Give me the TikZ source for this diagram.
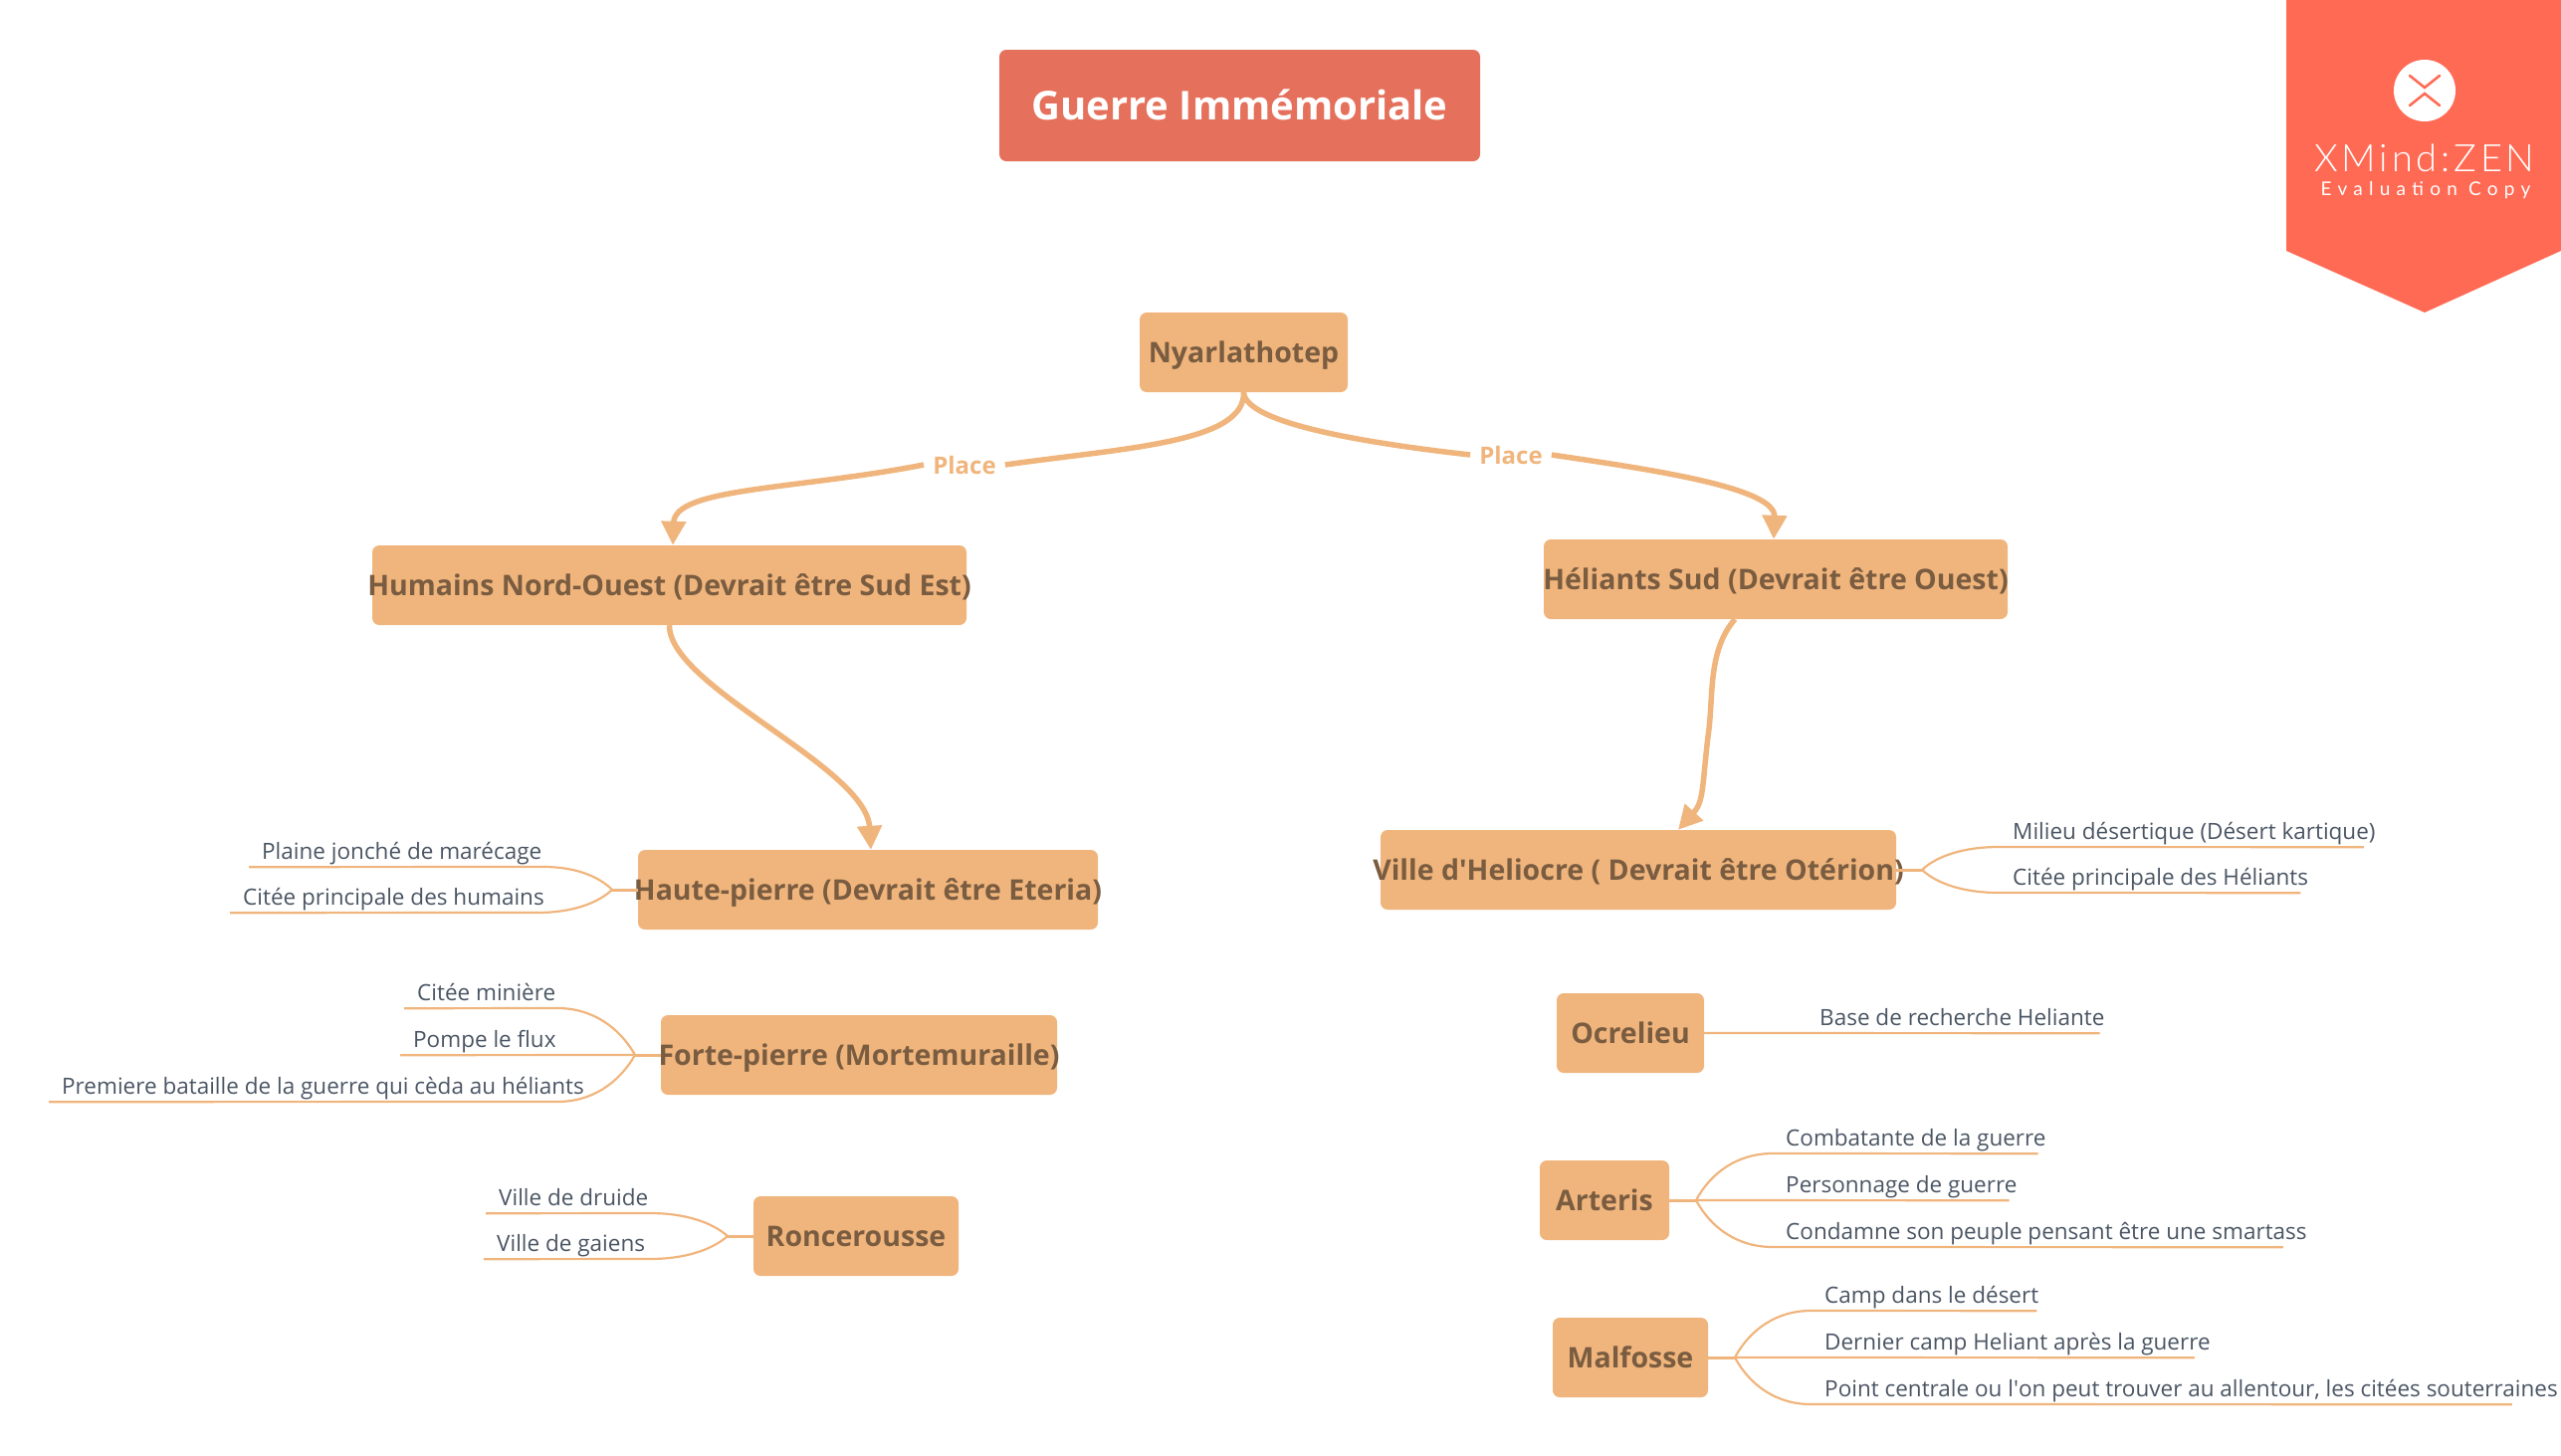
\documentclass[tikz,border=0pt]{standalone}
\usepackage{fontspec}
\setmainfont{Open Sans}
\newfontfamily\badgefont{Lato Light}
\newfontfamily\badgesmall{Lato}
\usetikzlibrary{arrows.meta}
\definecolor{orangebox}{HTML}{F0B57D}
\definecolor{browntext}{HTML}{7A5C40}
\definecolor{redtitle}{HTML}{E5705C}
\definecolor{slatetext}{HTML}{4A5563}
\definecolor{redbadge}{HTML}{FF6A54}
\newcommand{\wide}[1]{\makebox[0pt]{#1}}
\tikzset{
  topic/.style={fill=orangebox, rounded corners=7pt, text=browntext, inner sep=0pt, minimum height=80pt, text height=24pt, text depth=4pt, font=\fontsize{28.5}{34}\bfseries\selectfont},
  leaf/.style={anchor=base west, inner sep=0pt, text depth=8pt, text=slatetext, font=\fontsize{22.5}{27}\selectfont},
  branch/.style={draw=orangebox, line width=5.5pt, -{Triangle[length=24pt,width=24pt]}},
  branchplain/.style={draw=orangebox, line width=5.5pt},
  stub/.style={draw=orangebox, line width=3pt},
  twig/.style={draw=orangebox, line width=2.2pt},
  placelabel/.style={inner xsep=9pt, inner ysep=0pt, text=orangebox, font=\fontsize{24}{29}\bfseries\selectfont}
}
\begin{document}
\begin{tikzpicture}[x=1pt,y=-1pt]
\useasboundingbox (0,0) rectangle (2573,1462);
% badge
\fill[redbadge] (2297,0) -- (2573,0) -- (2573,252) -- (2436,314) -- (2297,252) -- cycle;
\fill[white] (2436,91) circle (31);
\draw[redbadge, line width=2.6pt, line cap=round] (2421,76) -- (2436,88) -- (2451,76);
\draw[redbadge, line width=2.6pt, line cap=round] (2421,106) -- (2436,94) -- (2451,106);
\node[anchor=base, inner sep=0pt, text=white, font=\badgefont\fontsize{38}{40}\selectfont] (xmind) at (2436,172) {\addfontfeature{LetterSpace=10}XMind:ZEN};
\node[anchor=base, inner sep=0pt, text=white, font=\badgesmall\fontsize{19}{22}\selectfont] (evalcopy) at (2437,196) {\addfontfeature{LetterSpace=33}Evaluation Copy};

% main topics
\node[fill=redtitle, rounded corners=7pt, minimum width=483pt, minimum height=112pt, inner sep=0pt, text height=30pt, text depth=2pt, text=white, font=\fontsize{40}{48}\bfseries\selectfont] (guerre) at (1245.5,106) {Guerre Immémoriale};
\node[topic, minimum width=209pt] (nyar) at (1249.5,354) {\wide{Nyarlathotep}};
\node[topic, minimum width=597pt] (humains) at (672.5,588) {\wide{Humains Nord-Ouest (Devrait être Sud Est)}};
\node[topic, minimum width=466pt] (heliants) at (1784,582) {\wide{Héliants Sud (Devrait être Ouest)}};
\node[topic, minimum width=462pt] (haute) at (872,894) {\wide{Haute-pierre (Devrait être Eteria)}};
\node[topic, minimum width=398pt] (forte) at (863,1060) {\wide{Forte-pierre (Mortemuraille)}};
\node[topic, minimum width=206pt] (ronce) at (860,1242) {\wide{Roncerousse}};
\node[topic, minimum width=518pt] (ville) at (1646,874) {\wide{Ville d\textquotesingle Heliocre ( Devrait être Otérion)}};
\node[topic, minimum width=148pt] (ocre) at (1638,1038) {\wide{Ocrelieu}};
\node[topic, minimum width=130pt] (arteris) at (1612,1206) {\wide{Arteris}};
\node[topic, minimum width=156pt] (malfosse) at (1638,1364) {\wide{Malfosse}};

% labels on the big branches
\node[placelabel] (placea) at (969,467) {Place};
\node[placelabel] (placeb) at (1518,457) {Place};

% big branches
\draw[branchplain] (nyar.south) .. controls (1251,445) and (1130,450) .. (placea.east);
\draw[branch] (placea.west) .. controls (800,492) and (678,490) .. ([xshift=3.5pt]humains.north);
\draw[branchplain] (nyar.south) .. controls (1251,425) and (1370,445) .. (placeb.west);
\draw[branch] (placeb.east) .. controls (1660,472) and (1784,490) .. ([xshift=-2pt]heliants.north);
\draw[branch] (humains.south) .. controls (672,690) and (870,770) .. ([xshift=3pt]haute.north);
\draw[branch] ([xshift=-41pt]heliants.south) .. controls (1715,655) and (1722,700) .. (1716,740) .. controls (1710,790) and (1712,805) .. ([xshift=40pt]ville.north);

% left leaves
\node[leaf] (plaine) at (263,863) {Plaine jonché de marécage};
\node[leaf] (citeeh) at (244,909) {Citée principale des humains};
\coordinate (jhaute) at (615,894);
\draw[stub] (haute.west) -- (jhaute);
\draw[twig] (jhaute) .. controls (601,880) and (577,871) .. (546,871) -- ([xshift=-13pt]plaine.south west);
\draw[twig] (jhaute) .. controls (600,908) and (574,917) .. (540,917) -- ([xshift=-13pt]citeeh.south west);

\node[leaf] (miniere) at (419,1005) {Citée minière};
\node[leaf] (pompe) at (415,1052) {Pompe le flux};
\node[leaf] (premiere) at (62,1099) {Premiere bataille de la guerre qui cèda au héliants};
\coordinate (jforte) at (638,1060);
\draw[stub] (forte.west) -- (jforte);
\draw[twig] (jforte) .. controls (622,1032) and (595,1013) .. (560,1013) -- ([xshift=-13pt]miniere.south west);
\draw[twig] (jforte) -- ([xshift=-13pt]pompe.south west);
\draw[twig] (jforte) .. controls (622,1088) and (595,1107) .. (560,1107) -- ([xshift=-13pt]premiere.south west);

\node[leaf] (druide) at (501,1211) {Ville de druide};
\node[leaf] (gaiens) at (499,1257) {Ville de gaiens};
\coordinate (jronce) at (731,1242);
\draw[stub] (ronce.west) -- (jronce);
\draw[twig] (jronce) .. controls (715,1228) and (688,1219) .. (653,1219) -- ([xshift=-13pt]druide.south west);
\draw[twig] (jronce) .. controls (715,1256) and (688,1265) .. (653,1265) -- ([xshift=-13pt]gaiens.south west);

% right leaves
\node[leaf] (milieu) at (2022,843) {Milieu désertique (Désert kartique)};
\node[leaf] (citeev) at (2022,889) {Citée principale des Héliants};
\coordinate (jville) at (1931,874);
\draw[stub] (ville.east) -- (jville);
\draw[twig] (jville) .. controls (1946,860) and (1973,851) .. (2008,851) -- ([xshift=-12pt]milieu.south east);
\draw[twig] (jville) .. controls (1946,888) and (1973,897) .. (2008,897) -- ([xshift=-8pt]citeev.south east);

\node[leaf] (base) at (1828,1030) {Base de recherche Heliante};
\draw[twig] (ocre.east) -- ([xshift=-5pt]base.south east);

\node[leaf] (comb) at (1794,1151) {Combatante de la guerre};
\node[leaf] (perso) at (1794,1198) {Personnage de guerre};
\node[leaf] (condamne) at (1794,1245) {Condamne son peuple pensant être une smartass};
\coordinate (jarteris) at (1704,1206);
\draw[stub] (arteris.east) -- (jarteris);
\draw[twig] (jarteris) .. controls (1719,1178) and (1746,1159) .. (1781,1159) -- ([xshift=-8pt]comb.south east);
\draw[twig] (jarteris) -- ([xshift=-8pt]perso.south east);
\draw[twig] (jarteris) .. controls (1719,1234) and (1746,1253) .. (1781,1253) -- ([xshift=-24pt]condamne.south east);

\node[leaf] (camp) at (1833,1309) {Camp dans le désert};
\node[leaf] (dernier) at (1833,1356) {Dernier camp Heliant après la guerre};
\node[leaf] (point) at (1833,1403) {Point centrale ou l\textquotesingle on peut trouver au allentour, les citées souterraines};
\coordinate (jmal) at (1743,1364);
\draw[stub] (malfosse.east) -- (jmal);
\draw[twig] (jmal) .. controls (1758,1336) and (1785,1317) .. (1819,1317) -- ([xshift=-2pt]camp.south east);
\draw[twig] (jmal) -- ([xshift=-16pt]dernier.south east);
\draw[twig] (jmal) .. controls (1758,1392) and (1785,1411) .. (1819,1411) -- ([xshift=-46pt]point.south east);
\end{tikzpicture}
\end{document}
